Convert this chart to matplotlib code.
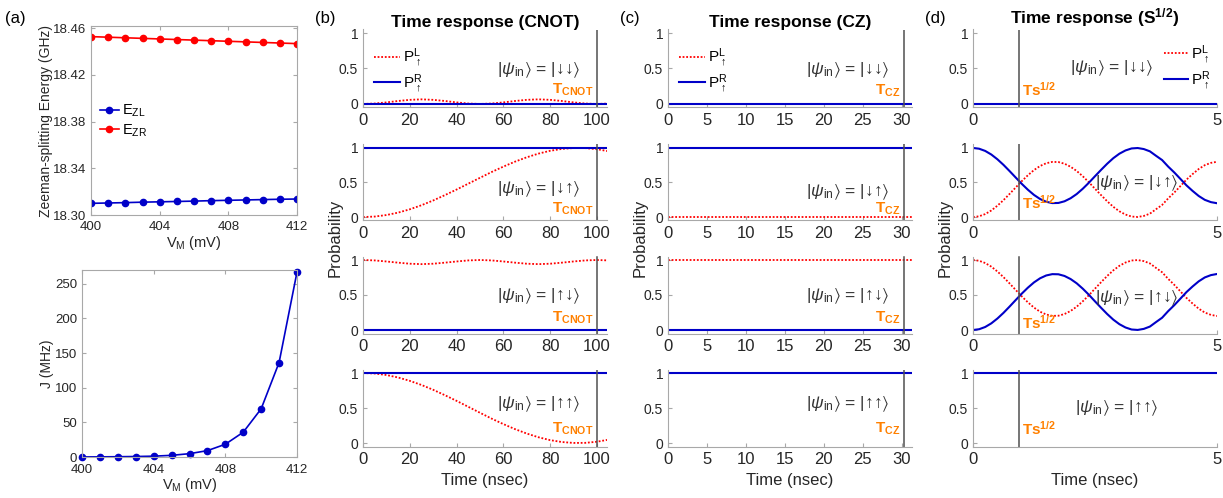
import matplotlib.pyplot as plt
from matplotlib.lines import Line2D

plt.rcParams['font.family'] = ['Liberation Sans', 'DejaVu Sans']
plt.rcParams['mathtext.fontset'] = 'custom'
plt.rcParams['mathtext.rm'] = 'Liberation Sans'
plt.rcParams['mathtext.it'] = 'Liberation Sans:italic'
plt.rcParams['mathtext.bf'] = 'Liberation Sans:bold'
plt.rcParams['mathtext.fallback'] = 'stixsans'

# ---- (a) Zeeman splitting and exchange vs V_M ----
vm = [400, 401, 402, 403, 404, 405, 406, 407, 408, 409, 410, 411, 412]
ezl = [18.3100, 18.3103, 18.3106, 18.3110, 18.3113, 18.3116, 18.3119,
       18.3123, 18.3126, 18.3129, 18.3132, 18.3135, 18.3137]
ezr = [18.4529, 18.4524, 18.4519, 18.4514, 18.4509, 18.4504, 18.4499,
       18.4494, 18.4489, 18.4484, 18.4479, 18.4474, 18.4469]
j_mhz = [0.1, 0.2, 0.4, 0.7, 1.2, 2.4, 4.8, 9.2, 18.4, 35.8, 69.6, 136.4, 267.0]

# ---- (b) CNOT, sampled every 5 ns ----
t_cnot = [0, 5, 10, 15, 20, 25, 30, 35, 40, 45, 50, 55, 60, 65, 70, 75,
          80, 85, 90, 95, 100, 105]
cnot_dd_L = [0, 0.006, 0.022, 0.042, 0.058, 0.065, 0.058, 0.042, 0.022, 0.006, 0,
             0.006, 0.022, 0.042, 0.058, 0.065, 0.058, 0.042, 0.022, 0.006, 0, 0.006]
cnot_du_L = [0, 0.007, 0.029, 0.064, 0.112, 0.171, 0.240, 0.317, 0.398, 0.483, 0.568,
             0.652, 0.730, 0.802, 0.865, 0.918, 0.959, 0.986, 0.999, 0.998, 0.982, 0.952]
cnot_ud_L = [1, 0.994, 0.979, 0.962, 0.947, 0.941, 0.947, 0.962, 0.979, 0.994, 1,
             0.994, 0.979, 0.962, 0.947, 0.941, 0.947, 0.962, 0.979, 0.994, 1, 0.994]
cnot_uu_L = [1, 0.993, 0.971, 0.936, 0.888, 0.829, 0.760, 0.683, 0.602, 0.517, 0.432,
             0.348, 0.270, 0.198, 0.135, 0.082, 0.041, 0.014, 0.001, 0.002, 0.018, 0.048]
t_cnot_flat = [0, 105]
cnot_R = [[0, 0], [1, 1], [0, 0], [1, 1]]

# ---- (c) CZ ----
t_cz = [0, 32]
cz_L = [[0, 0], [0, 0], [1, 1], [1, 1]]
cz_R = [[0, 0], [1, 1], [0, 0], [1, 1]]

# ---- (d) sqrt(SWAP), sampled every 0.125 ns ----
t_s = [0, 0.125, 0.25, 0.375, 0.5, 0.625, 0.75, 0.875, 1.0, 1.125, 1.25, 1.375,
       1.5, 1.625, 1.75, 1.875, 2.0, 2.125, 2.25, 2.375, 2.5, 2.625, 2.75, 2.875,
       3.0, 3.125, 3.25, 3.375, 3.5, 3.625, 3.75, 3.875, 4.0, 4.125, 4.25, 4.375,
       4.5, 4.625, 4.75, 4.875, 5.0]
s_du_R = [1.0, 0.989, 0.957, 0.905, 0.836, 0.755, 0.665, 0.572, 0.480, 0.395, 0.320,
          0.261, 0.221, 0.202, 0.204, 0.228, 0.272, 0.333, 0.410, 0.497, 0.591, 0.683,
          0.772, 0.852, 0.917, 0.964, 0.993, 0.999, 0.984, 0.951, 0.887, 0.825, 0.730,
          0.645, 0.552, 0.458, 0.378, 0.305, 0.249, 0.216, 0.200]
s_du_L = [0.0, 0.011, 0.043, 0.095, 0.164, 0.245, 0.335, 0.428, 0.520, 0.605, 0.680,
          0.739, 0.779, 0.798, 0.796, 0.772, 0.728, 0.667, 0.590, 0.503, 0.409, 0.317,
          0.228, 0.148, 0.083, 0.036, 0.007, 0.001, 0.016, 0.049, 0.113, 0.175, 0.270,
          0.355, 0.448, 0.542, 0.622, 0.695, 0.751, 0.784, 0.800]
s_ud_R = [0.0, 0.011, 0.043, 0.095, 0.164, 0.245, 0.335, 0.428, 0.520, 0.605, 0.680,
          0.739, 0.779, 0.798, 0.796, 0.772, 0.728, 0.667, 0.590, 0.503, 0.409, 0.317,
          0.228, 0.148, 0.083, 0.036, 0.007, 0.001, 0.016, 0.049, 0.113, 0.175, 0.270,
          0.355, 0.448, 0.542, 0.622, 0.695, 0.751, 0.784, 0.800]
s_ud_L = [1.0, 0.989, 0.957, 0.905, 0.836, 0.755, 0.665, 0.572, 0.480, 0.395, 0.320,
          0.261, 0.221, 0.202, 0.204, 0.228, 0.272, 0.333, 0.410, 0.497, 0.591, 0.683,
          0.772, 0.852, 0.917, 0.964, 0.993, 0.999, 0.984, 0.951, 0.887, 0.825, 0.730,
          0.645, 0.552, 0.458, 0.378, 0.305, 0.249, 0.216, 0.200]
t_s_flat = [0, 5]
s_flat = [[0, 0], [1, 1]]

states = ['↓↓', '↓↑', '↑↓', '↑↑']

BLUE = '#0000c8'
RED = '#ff0000'
ORANGE = '#ff8000'
SPINE = '#a8a8a8'
TXT = '#262626'

W, H = 1223, 498
fig = plt.figure(figsize=(W / 100, H / 100), dpi=100)


def px_ax(l, t, r, b):
    return fig.add_axes([l / W, 1 - b / H, (r - l) / W, (b - t) / H])


def style(ax, box):
    for s in ax.spines.values():
        s.set_color(SPINE)
        s.set_linewidth(0.8)
    if not box:
        ax.spines['top'].set_visible(False)
        ax.spines['right'].set_visible(False)
    ax.tick_params(direction='in', length=3, color=SPINE, labelcolor=TXT,
                   top=box, right=box)


# ---------- panel (a) ----------
ax = px_ax(91, 26, 297, 215)
style(ax, True)
ax.plot(vm, ezl, '-o', color=BLUE, ms=4.5, lw=1.2, label=r'$\mathrm{E}_{\mathrm{ZL}}$')
ax.plot(vm, ezr, '-o', color=RED, ms=4.5, lw=1.2, label=r'$\mathrm{E}_{\mathrm{ZR}}$')
ax.set_xlim(400, 412)
ax.set_ylim(18.30, 18.462)
ax.set_xticks([400, 404, 408, 412])
ax.set_yticks([18.30, 18.34, 18.38, 18.42, 18.46])
ax.set_yticklabels(['18.30', '18.34', '18.38', '18.42', '18.46'])
ax.tick_params(labelsize=9.5)
ax.tick_params(axis='x', pad=4)
ax.set_xlabel(r'V$_\mathrm{M}$ (mV)', fontsize=10.5, color=TXT, labelpad=1)
ax.set_ylabel('Zeeman-splitting Energy (GHz)', fontsize=10, color=TXT, labelpad=0)
ax.legend(loc='upper left', bbox_to_anchor=(0.0, 0.64), frameon=False, fontsize=10.5,
          handlelength=1.3, handletextpad=0.2, labelspacing=0.2, borderaxespad=0.2)

ax = px_ax(82, 270, 297, 457)
style(ax, True)
ax.plot(vm, j_mhz, '-o', color=BLUE, ms=4.5, lw=1.2, clip_on=False)
ax.set_xlim(400, 412)
ax.set_ylim(0, 270)
ax.set_xticks([400, 404, 408, 412])
ax.set_yticks([0, 50, 100, 150, 200, 250])
ax.tick_params(labelsize=9.5)
ax.tick_params(axis='x', pad=5)
ax.set_xlabel(r'V$_\mathrm{M}$ (mV)', fontsize=10.5, color=TXT, labelpad=0)
ax.set_ylabel('J (MHz)', fontsize=10, color=TXT, labelpad=1)

# ---------- panels (b)-(d) ----------
rows = [(29.5, 107.5), (144.5, 220.5), (256.5, 333.5), (369.5, 446.5)]
panels = [
    dict(l=363, r=607, xlim=(0, 104.3), xticks=[0, 20, 40, 60, 80, 100], tline=100,
         title='Time response (CNOT)', tag='(b)'),
    dict(l=668, r=912, xlim=(0, 31.3), xticks=[0, 5, 10, 15, 20, 25, 30], tline=30.3,
         title='Time response (CZ)', tag='(c)'),
    dict(l=973, r=1217, xlim=(0, 5), xticks=[0, 5], tline=0.94,
         title=r'Time response (S$^{\mathbf{1/2}}$)', tag='(d)'),
]

cnot_L = [cnot_dd_L, cnot_du_L, cnot_ud_L, cnot_uu_L]
s_L = [s_flat[0], s_du_L, s_ud_L, s_flat[1]]
s_R = [s_flat[0], s_du_R, s_ud_R, s_flat[1]]

psi_pos = [
    [(75, 0.48), (75, 0.4), (75, 0.48), (75, 0.55)],
    [(23, 0.48), (23, 0.36), (23, 0.48), (23, 0.55)],
    [(2.85, 0.5), (3.36, 0.49), (3.36, 0.46), (2.95, 0.5)],
]
t_pos = [
    [(98.5, 0.2), (98.5, 0.12), (98.5, 0.17), (98.5, 0.2)],
    [(29.8, 0.18), (29.8, 0.12), (29.8, 0.17), (29.8, 0.2)],
    [(1.0, 0.2), (1.0, 0.2), (1.0, 0.1), (1.0, 0.2)],
]
t_labels = [r'$\mathbf{T}_{\mathbf{CNOT}}$', r'$\mathbf{T}_{\mathbf{CZ}}$',
            r'$\mathbf{Ts}^{\mathbf{1/2}}$']

for p, pan in enumerate(panels):
    for i, (top, bot) in enumerate(rows):
        ax = px_ax(pan['l'], top, pan['r'], bot)
        style(ax, False)
        if p == 0:
            ax.plot(t_cnot, cnot_L[i], color=RED, ls=(0, (1, 1)), lw=1.3)
            ax.plot(t_cnot_flat, cnot_R[i], color=BLUE, lw=1.5)
        elif p == 1:
            ax.plot(t_cz, cz_L[i], color=RED, ls=(0, (1, 1)), lw=1.3)
            ax.plot(t_cz, cz_R[i], color=BLUE, lw=1.5)
        else:
            tt = t_s if i in (1, 2) else t_s_flat
            ax.plot(tt, s_L[i], color=RED, ls=(0, (1, 1)), lw=1.3)
            ax.plot(tt, s_R[i], color=BLUE, lw=1.5)
        ax.axvline(pan['tline'], color='#505050', lw=1.1)
        ax.set_xlim(*pan['xlim'])
        ax.set_ylim(-0.05, 1.05)
        ax.set_xticks(pan['xticks'])
        ax.set_yticks([0, 0.5, 1])
        ax.set_yticklabels(['0', '0.5', '1'])
        ax.tick_params(axis='x', labelsize=12, pad=4)
        ax.tick_params(axis='y', labelsize=10)

        px, py = psi_pos[p][i]
        ax.text(px, py, r'$|\psi_{\mathrm{in}}\rangle$ = |' + states[i] + r'$\rangle$',
                ha='center', va='center', fontsize=12.5, color='#333333')
        tx, ty = t_pos[p][i]
        ax.text(tx, ty, t_labels[p], ha='left' if p == 2 else 'right', va='center',
                fontsize=11, color=ORANGE)

        if i == 0:
            handles = [Line2D([], [], color=RED, ls=(0, (1, 1)), lw=1.3),
                       Line2D([], [], color=BLUE, lw=1.5)]
            labels = [r'$\mathrm{P}^{\mathrm{L}}_{\uparrow}$',
                      r'$\mathrm{P}^{\mathrm{R}}_{\uparrow}$']
            if p == 2:
                ax.legend(handles, labels, loc='upper right', bbox_to_anchor=(1.0, 0.9),
                          frameon=False, fontsize=11, handlelength=1.6,
                          handletextpad=0.2, labelspacing=0.15, borderaxespad=0.0)
            else:
                ax.legend(handles, labels, loc='upper left', bbox_to_anchor=(0.02, 0.86),
                          frameon=False, fontsize=11, handlelength=1.7,
                          handletextpad=0.2, labelspacing=0.15, borderaxespad=0.0)
            ax.set_title(pan['title'], fontsize=12.5, fontweight='bold', pad=1.5)
        if i == 3:
            ax.set_xlabel('Time (nsec)', fontsize=12, color=TXT)

    fig.text((pan['l'] - 28) / W, 1 - 238 / H, 'Probability', rotation=90,
             ha='center', va='center', fontsize=12, color=TXT)
    fig.text((pan['l'] - 48) / W, 1 - 18 / H, pan['tag'], ha='left', va='center',
             fontsize=12)

fig.text(5 / W, 1 - 18 / H, '(a)', ha='left', va='center', fontsize=12)

fig.savefig('out.png', dpi=100)
